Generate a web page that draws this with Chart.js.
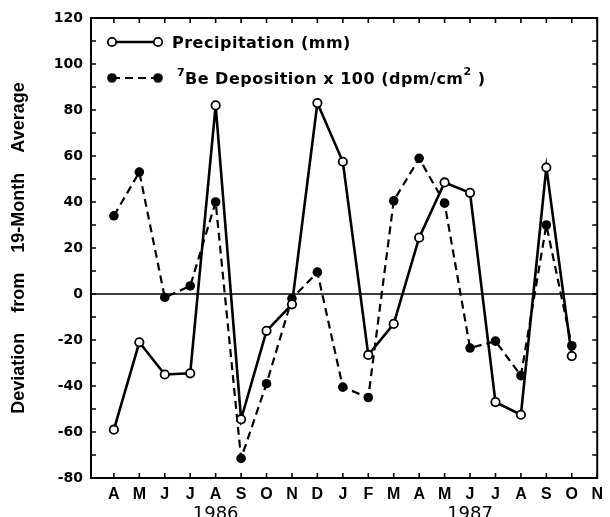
<!DOCTYPE html>
<html>
<head>
<meta charset="utf-8">
<script src="https://cdn.jsdelivr.net/npm/chart.js@4/dist/chart.umd.min.js"></script>
<style>
  html, body { margin: 0; padding: 0; background: #fff; }
  #wrap { width: 610px; height: 517px; }
</style>
</head>
<body>
<div id="wrap"><canvas id="c" width="610" height="517"></canvas></div>
<script>
// ---- data ----
const months = ['A','M','J','J','A','S','O','N','D','J','F','M','A','M','J','J','A','S','O','N'];
const yearLabels = ['1986', '1987'];
const precipitation = [-59, -21, -35, -34.5, 82, -54.5, -16, -4.5, 83, 57.5, -26.5, -13, 24.5, 48.5, 44, -47, -52.5, 55, -27];
const beDeposition = [34, 53, -1.5, 3.5, 40, -71.5, -39, -2, 9.5, -40.5, -45, 40.5, 59, 39.5, -23.5, -20.5, -35.5, 30, -22.5];
const yTickValues = [-80, -60, -40, -20, 0, 20, 40, 60, 80, 100, 120];

const seriesNames = ['Precipitation (mm)', 'Be Deposition x 100 (dpm/cm'];

const toPoints = arr => arr.map((v, i) => ({ x: i, y: v }));

const decor = {
  id: 'decor',
  beforeDatasetsDraw(chart) {
    const { ctx, chartArea: a, scales: { x, y } } = chart;
    ctx.save();
    ctx.strokeStyle = '#000';
    // zero line
    ctx.lineWidth = 1.6;
    const y0 = y.getPixelForValue(0);
    ctx.beginPath(); ctx.moveTo(a.left, y0); ctx.lineTo(a.right, y0); ctx.stroke();
    // box
    ctx.lineWidth = 2;
    ctx.strokeRect(a.left, a.top, a.right - a.left, a.bottom - a.top);
    // inward ticks
    const tl = 5;
    ctx.lineWidth = 1.6;
    ctx.beginPath();
    for (let v = -70; v < 120; v += 10) {
      const p = y.getPixelForValue(v);
      ctx.moveTo(a.left, p); ctx.lineTo(a.left + tl, p);
      ctx.moveTo(a.right, p); ctx.lineTo(a.right - tl, p);
    }
    for (let i = 0; i < months.length; i++) {
      const p = x.getPixelForValue(i);
      ctx.moveTo(p, a.bottom); ctx.lineTo(p, a.bottom - tl);
      ctx.moveTo(p, a.top); ctx.lineTo(p, a.top + tl);
    }
    ctx.stroke();
    ctx.restore();
  },
  afterDraw(chart) {
    const { ctx, chartArea: a, scales: { x } } = chart;
    ctx.save();
    // year labels under the month labels
    ctx.fillStyle = '#000';
    ctx.font = '18px "DejaVu Sans"';
    ctx.textAlign = 'center';
    ctx.textBaseline = 'alphabetic';
    ctx.fillText(yearLabels[0], x.getPixelForValue(4), 519);
    ctx.fillText(yearLabels[1], x.getPixelForValue(14), 519);

    // legend
    const lx0 = a.left + 21, lx1 = a.left + 67;
    const ly1 = a.top + 24, ly2 = a.top + 60;
    ctx.strokeStyle = '#000';
    ctx.lineWidth = 2.5;
    ctx.setLineDash([]);
    ctx.beginPath(); ctx.moveTo(lx0, ly1); ctx.lineTo(lx1, ly1); ctx.stroke();
    ctx.lineWidth = 1.8;
    for (const px of [lx0, lx1]) {
      ctx.beginPath(); ctx.arc(px, ly1, 4.2, 0, Math.PI * 2);
      ctx.fillStyle = '#fff'; ctx.fill(); ctx.stroke();
    }
    ctx.lineWidth = 2.2;
    ctx.setLineDash([8, 5]);
    ctx.beginPath(); ctx.moveTo(lx0, ly2); ctx.lineTo(lx1, ly2); ctx.stroke();
    ctx.setLineDash([]);
    for (const px of [lx0, lx1]) {
      ctx.beginPath(); ctx.arc(px, ly2, 4.8, 0, Math.PI * 2);
      ctx.fillStyle = '#000'; ctx.fill();
    }
    ctx.fillStyle = '#000';
    ctx.textAlign = 'left';
    ctx.textBaseline = 'alphabetic';
    ctx.letterSpacing = '0.5px';
    ctx.font = 'bold 16px "DejaVu Sans"';
    ctx.fillText(seriesNames[0], a.left + 81, ly1 + 6);
    // superscript 7
    ctx.font = 'bold 11px "DejaVu Sans"';
    ctx.fillText('7', a.left + 86, ly2 - 2);
    ctx.font = 'bold 16px "DejaVu Sans"';
    let tx = a.left + 94;
    ctx.fillText(seriesNames[1], tx, ly2 + 6);
    tx += ctx.measureText(seriesNames[1]).width;
    ctx.font = 'bold 11px "DejaVu Sans"';
    ctx.fillText('2', tx, ly2 - 3);
    tx += ctx.measureText('2').width + 6;
    ctx.font = 'bold 16px "DejaVu Sans"';
    ctx.fillText(')', tx, ly2 + 6);
    ctx.restore();
  }
};

new Chart(document.getElementById('c'), {
  type: 'line',
  data: {
    datasets: [
      {
        label: seriesNames[0],
        data: toPoints(precipitation),
        borderColor: '#000',
        borderWidth: 2.6,
        pointRadius: 4.2,
        pointBorderWidth: 1.8,
        pointBackgroundColor: '#fff',
        pointBorderColor: '#000',
        tension: 0
      },
      {
        label: seriesNames[1],
        data: toPoints(beDeposition),
        borderColor: '#000',
        borderWidth: 2.2,
        borderDash: [8, 5],
        pointRadius: 4.8,
        pointBorderWidth: 0,
        pointBackgroundColor: '#000',
        pointBorderColor: '#000',
        tension: 0
      }
    ]
  },
  options: {
    responsive: false,
    animation: false,
    devicePixelRatio: 1,
    layout: { padding: { left: 0, right: 7, top: 18, bottom: 0 } },
    plugins: { legend: { display: false }, tooltip: { enabled: false } },
    scales: {
      x: {
        type: 'linear',
        min: -0.9,
        max: 19,
        afterBuildTicks: s => { s.ticks = months.map((m, i) => ({ value: i })); },
        afterFit: s => { s.height = 39; },
        grid: { display: false, drawTicks: false },
        border: { display: false },
        ticks: {
          autoSkip: false,
          maxRotation: 0,
          padding: 7,
          color: '#000',
          font: { family: 'Liberation Sans', weight: 'bold', size: 16 },
          callback: v => months[v]
        }
      },
      y: {
        min: -80,
        max: 120,
        afterBuildTicks: s => { s.ticks = yTickValues.map(v => ({ value: v })); },
        afterFit: s => { s.width = 91; },
        grid: { display: false, drawTicks: false },
        border: { display: false },
        ticks: {
          padding: 8,
          color: '#000',
          font: { family: 'DejaVu Sans', weight: 'bold', size: 14 }
        },
        title: {
          display: true,
          text: 'Deviation    from    19-Month    Average',
          color: '#000',
          font: { family: 'Liberation Sans', weight: 'bold', size: 18 },
          padding: { top: 8, bottom: 0 }
        }
      }
    }
  },
  plugins: [decor]
});
</script>
</body>
</html>
